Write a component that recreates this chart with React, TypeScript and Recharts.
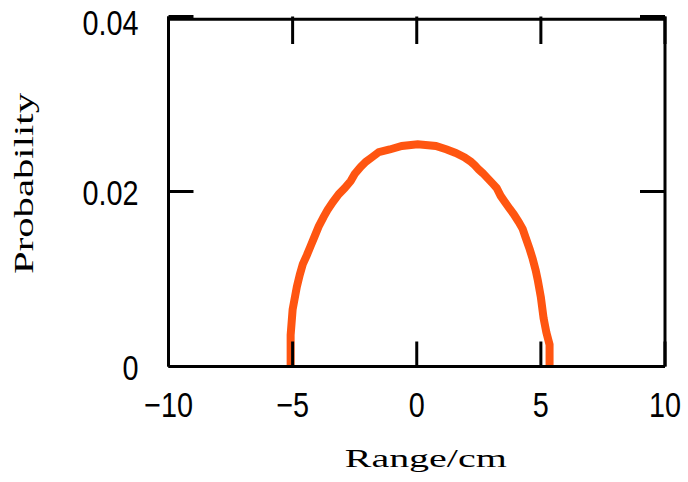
import React from "react";
import { LineChart, Line, XAxis, YAxis, ReferenceLine, Label } from "recharts";

const rangeCm = [-5.08, -5.08, -5.0, -4.83, -4.71, -4.59, -4.43, -4.27, -4.11, -3.95, -3.75, -3.59, -3.38, -3.14, -2.9, -2.66, -2.5, -2.26, -2.05, -1.81, -1.53, -1.09, -0.6, 0.04, 0.77, 1.21, 1.57, 1.93, 2.18, 2.34, 2.5, 2.66, 2.86, 3.06, 3.22, 3.38, 3.55, 3.75, 3.91, 4.11, 4.27, 4.39, 4.55, 4.67, 4.79, 4.88, 5.0, 5.11, 5.22, 5.35, 5.35];
const probability = [0, 0.0036, 0.0065, 0.0091, 0.0105, 0.0117, 0.0127, 0.0138, 0.0149, 0.016, 0.0171, 0.0179, 0.0188, 0.0197, 0.0204, 0.0212, 0.022, 0.0228, 0.0234, 0.0239, 0.0245, 0.0248, 0.0252, 0.0254, 0.0252, 0.0248, 0.0244, 0.0239, 0.0234, 0.023, 0.0225, 0.0221, 0.0215, 0.0209, 0.0204, 0.0195, 0.0188, 0.018, 0.0174, 0.0165, 0.0157, 0.0147, 0.0134, 0.0123, 0.011, 0.0098, 0.0079, 0.0055, 0.0039, 0.0025, 0];
const xTicks = [-10, -5, 0, 5, 10];
const yTicks = [0, 0.02, 0.04];
const xTitle = "Range/cm";
const yTitle = "Probability";

const data = rangeCm.map((x, i) => ({ x, y: probability[i] }));

const TICK_FONT = "'Liberation Sans', Arial, sans-serif";
const TITLE_FONT = "'Liberation Serif', 'DejaVu Serif', serif";
const FRAME_TOP = 0.0397;

const fmtX = (v: number) => (v < 0 ? "\u2212" + Math.abs(v) : String(v));

function XTick(props: any) {
  const { x, y, payload } = props;
  return (
    <text
      transform={`translate(${x},${y}) scale(0.8,1)`}
      x={0}
      y={26}
      textAnchor="middle"
      fontFamily={TICK_FONT}
      fontSize={36}
      fill="#000"
    >
      {fmtX(payload.value)}
    </text>
  );
}

function YTick(props: any) {
  const { x, y, payload } = props;
  const baseline = Math.max(y + 13, 35);
  return (
    <text
      transform={`translate(${x - 6},${baseline}) scale(0.8,1)`}
      x={0}
      y={0}
      textAnchor="end"
      fontFamily={TICK_FONT}
      fontSize={36}
      fill="#000"
    >
      {String(payload.value)}
    </text>
  );
}

const NoTick = () => <g />;

function XTitle(props: any) {
  const vb = props.viewBox || {};
  const cx = vb.x + vb.width / 2 + 9;
  const y = vb.y + 100;
  return (
    <text x={cx} y={y} textAnchor="middle" fontFamily={TITLE_FONT} fontSize={25} fill="#000" textLength={162} lengthAdjust="spacingAndGlyphs">
      {xTitle}
    </text>
  );
}

function YTitle(props: any) {
  const vb = props.viewBox || {};
  const x = vb.x + 33;
  const y = vb.y + vb.height / 2 - 8;
  return (
    <text x={x} y={y} transform={`rotate(-90, ${x}, ${y})`} textAnchor="middle" fontFamily={TITLE_FONT} fontSize={27} fill="#000" textLength={181} lengthAdjust="spacingAndGlyphs">
      {yTitle}
    </text>
  );
}

export default function App() {
  const axisStroke = { stroke: "#000", strokeWidth: 3 };
  return (
    <div style={{ position: "absolute", left: 0, top: 0, background: "#fff" }}>
      <LineChart width={688} height={482} data={data} margin={{ top: 15.5, right: 22, bottom: 0, left: 0 }}>
        <XAxis
          dataKey="x"
          type="number"
          domain={[-10, 10]}
          ticks={xTicks}
          allowDataOverflow
          height={115.5}
          tickSize={-25}
          tickMargin={49}
          axisLine={axisStroke}
          tickLine={axisStroke}
          tick={<XTick />}
        >
          <Label content={<XTitle />} />
        </XAxis>
        <XAxis
          xAxisId="top"
          dataKey="x"
          orientation="top"
          type="number"
          domain={[-10, 10]}
          ticks={xTicks}
          allowDataOverflow
          height={1}
          tickSize={-27.5}
          axisLine={false}
          tickLine={axisStroke}
          tick={<NoTick />}
        />
        <YAxis
          type="number"
          domain={[0, 0.04]}
          ticks={yTicks}
          allowDataOverflow
          width={168.5}
          tickSize={-25}
          tickMargin={49}
          axisLine={axisStroke}
          tickLine={axisStroke}
          tick={<YTick />}
        >
          <Label content={<YTitle />} />
        </YAxis>
        <YAxis
          yAxisId="right"
          dataKey="y"
          orientation="right"
          type="number"
          domain={[0, 0.04]}
          ticks={yTicks}
          allowDataOverflow
          width={1}
          tickSize={-25}
          axisLine={axisStroke}
          tickLine={axisStroke}
          tick={<NoTick />}
        />
        <ReferenceLine y={FRAME_TOP} stroke="#000" strokeWidth={3} />
        <Line
          dataKey="y"
          type="linear"
          stroke="#ff5511"
          strokeWidth={8}
          dot={false}
          isAnimationActive={false}
        />
      </LineChart>
    </div>
  );
}
